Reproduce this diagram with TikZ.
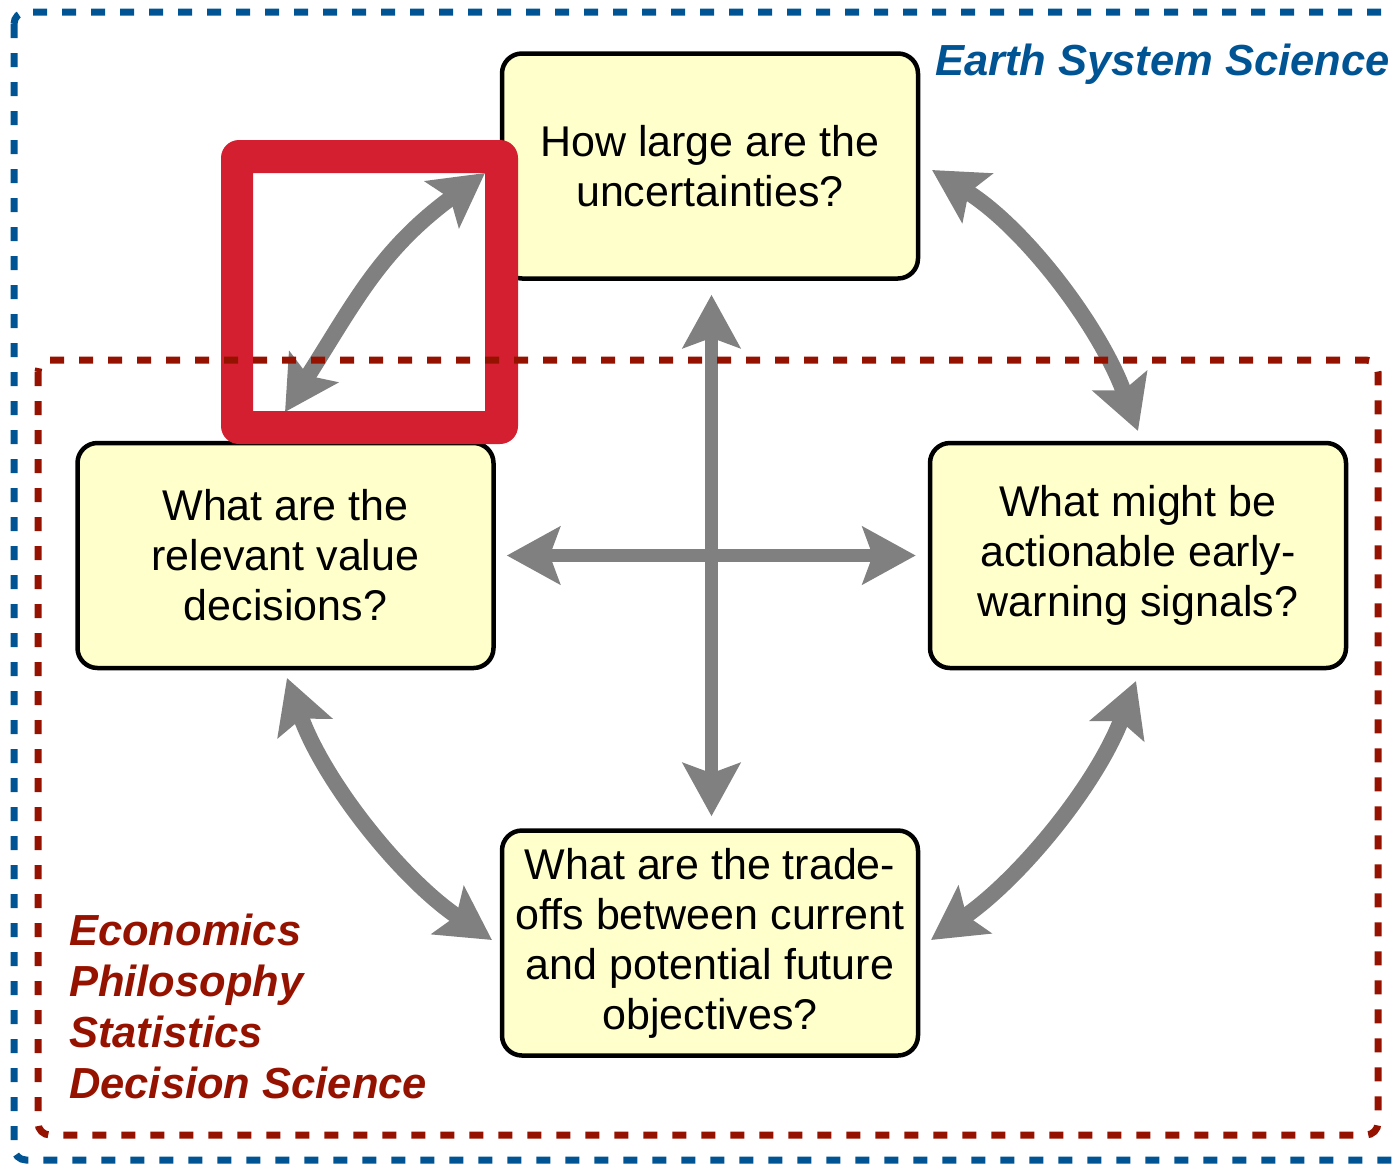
\documentclass[tikz,border=0pt]{standalone}
\usepackage{fontspec}
\setmainfont{Liberation Sans}
\usetikzlibrary{arrows.meta,calc}
\definecolor{esblue}{RGB}{0,84,147}
\definecolor{dred}{RGB}{150,18,0}
\definecolor{hlred}{RGB}{211,31,47}
\definecolor{qyellow}{RGB}{255,255,204}
\definecolor{agray}{RGB}{128,128,128}
\tikzset{
  qbox/.style={draw=black, line width=4.5pt, fill=qyellow, rounded corners=20pt,
    minimum width=416pt, minimum height=225pt, inner sep=0pt, align=center,
    font=\fontsize{43}{50}\selectfont},
  link/.style={draw=agray, line width=13.5pt,
    {Stealth[length=53pt,width=57pt,inset=10pt]}-{Stealth[length=53pt,width=57pt,inset=10pt]}},
  arclink/.style={link, line width=16pt},
  frame/.style={line width=7pt, dash pattern=on 14pt off 15pt, rounded corners=12pt},
  field/.style={font=\fontsize{43.5}{50}\selectfont\bfseries\itshape, inner sep=0pt, anchor=base west},
}
\begin{document}
\begin{tikzpicture}[x=1pt,y=-1pt]
\useasboundingbox (0,0) rectangle (1392,1163);
\clip (0,0) rectangle (1392,1163);
% question boxes
\node[qbox] (T) at (710,166) {How large are the\\uncertainties?};
\node[qbox] (L) at (285.5,555.5) {What are the\\relevant value\\decisions?};
\node[qbox] (R) at (1138,555.5) {What might be\\actionable early-\\warning signals?};
\node[qbox] (B) at (710,943) {What are the trade-\\offs between current\\and potential future\\objectives?};
% free ends of the curved connectors
\coordinate (tlA) at (285,412);
\coordinate (tlB) at (485,173);
\coordinate (trA) at (932,170);
\coordinate (trB) at (1138,431);
\coordinate (blA) at (287,678);
\coordinate (blB) at (492,940);
\coordinate (brA) at (1136,681);
\coordinate (brB) at (931,940);
% connectors
\draw[link, shorten <=14pt, shorten >=12pt] ([xshift=1.5pt]T.south) -- ([xshift=1.5pt]B.north);
\draw[link, shorten <=11pt, shorten >=12pt] (L.east) -- (R.west);
\draw[arclink] (tlA) .. controls (355,302) and (380,250) .. (tlB);
\draw[arclink] (trA) .. controls (1025.5,227.9) and (1100.5,327.6) .. (trB);
\draw[arclink] (blA) .. controls (323.9,781.5) and (400.8,878.5) .. (blB);
\draw[arclink] (brA) .. controls (1096.9,783.9) and (1021.4,877.3) .. (brB);
% highlight square
\fill[hlred, even odd rule] [rounded corners=18pt] (221,140) rectangle (518,444)
  [sharp corners] (253,173) rectangle (485,411);
% dashed fields
\draw[frame, draw=esblue] (14,12) rectangle (1405,1160);
\draw[frame, draw=dred] (38,360) rectangle (1378,1135);
% field labels
\node[field, text=esblue] (ess) at (935,75) {Earth System Science};
\node[field, text=dred] (econ) at (69,945) {Economics};
\node[field, text=dred] (phil) at (69,996) {Philosophy};
\node[field, text=dred] (stat) at (69,1047) {Statistics};
\node[field, text=dred] (dec) at (69,1098) {Decision Science};
\end{tikzpicture}
\end{document}
